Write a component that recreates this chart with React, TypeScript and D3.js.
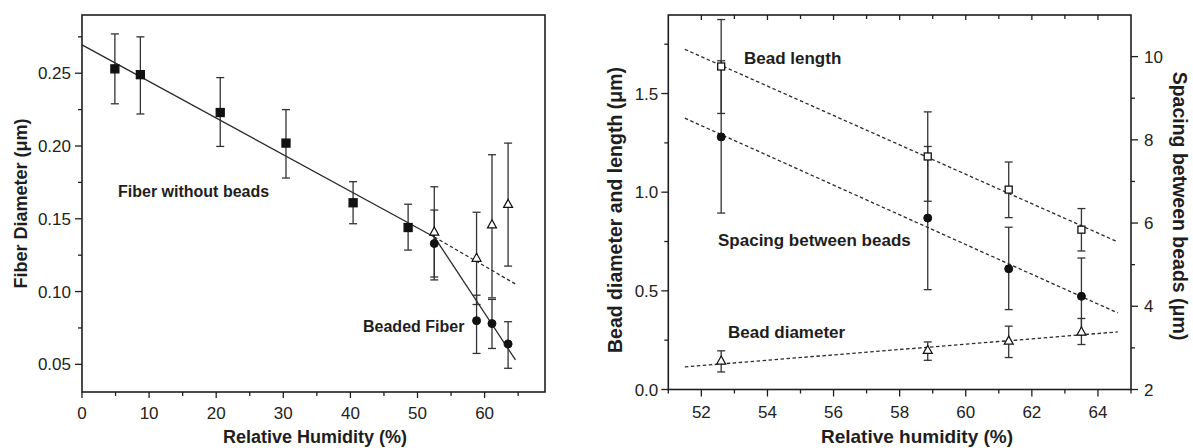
import React from "react";
import * as d3 from "d3";

// ---------- Left panel data ----------
const noBeadsRH = [4.9, 8.7, 20.6, 30.4, 40.4, 48.6];
const noBeadsDiam = [0.253, 0.249, 0.223, 0.202, 0.161, 0.144];
const noBeadsLo = [0.229, 0.222, 0.1997, 0.178, 0.1466, 0.1285];
const noBeadsHi = [0.277, 0.275, 0.247, 0.225, 0.1755, 0.16];

const beadedRH = [52.5, 58.8, 61.1, 63.5];
const beadedDiam = [0.133, 0.08, 0.078, 0.064];
const beadedLo = [0.108, 0.0575, 0.0609, 0.0473];
const beadedHi = [0.156, 0.0975, 0.0946, 0.0793];

const openTriRH = [52.5, 58.8, 61.1, 63.5];
const openTriDiam = [0.141, 0.123, 0.146, 0.16];
const openTriLo = [0.11, 0.0911, 0.0957, 0.1175];
const openTriHi = [0.172, 0.1545, 0.194, 0.202];

const fitNoBeadsX = [0, 52.5];
const fitNoBeadsY = [0.2695, 0.1375];
const fitBeadedX = [52.3, 64.6];
const fitBeadedY = [0.139, 0.053];
const fitDashX = [52.5, 64.6];
const fitDashY = [0.1375, 0.1052];

const leftXTicks = [0, 10, 20, 30, 40, 50, 60];
const leftYTicks = [0.05, 0.1, 0.15, 0.2, 0.25];

// ---------- Right panel data ----------
const rh2 = [52.6, 58.85, 61.3, 63.5];
const beadLength = [1.637, 1.181, 1.013, 0.81];
const beadLengthLo = [1.399, 0.954, 0.871, 0.702];
const beadLengthHi = [1.875, 1.407, 1.153, 0.917];
const spacing = [8.07, 6.12, 4.9, 4.24];
const spacingLo = [6.24, 4.4, 3.92, 3.32];
const spacingHi = [9.9, 7.84, 5.9, 5.16];
const beadDiam = [0.145, 0.199, 0.246, 0.292];
const beadDiamLo = [0.089, 0.148, 0.162, 0.228];
const beadDiamHi = [0.196, 0.241, 0.321, 0.36];

const fitX2 = [51.5, 64.6];
const fitLengthY = [1.724, 0.748];
const fitSpacingY = [8.52, 3.84];
const fitDiamY = [0.1145, 0.292];

const rightXTicks = [52, 54, 56, 58, 60, 62, 64];
const rightYTicks = [0, 0.5, 1.0, 1.5];
const rightY2Ticks = [2, 4, 6, 8, 10];

const INK = "#1e1e1e";
const FONT = "Liberation Sans, Arial, Helvetica, sans-serif";

type Pt = { x: number; y: number };

function ErrBars({ xs, lo, hi, sx, sy, cap }: any) {
  return (
    <g stroke="#333" strokeWidth={1.3}>
      {xs.map((x: number, i: number) => {
        const px = sx(x);
        return (
          <g key={i}>
            <line x1={px} x2={px} y1={sy(lo[i])} y2={sy(hi[i])} />
            <line x1={px - cap} x2={px + cap} y1={sy(lo[i])} y2={sy(lo[i])} />
            <line x1={px - cap} x2={px + cap} y1={sy(hi[i])} y2={sy(hi[i])} />
          </g>
        );
      })}
    </g>
  );
}

function FitLine({ xs, ys, sx, sy, dashed }: any) {
  const pts: Pt[] = xs.map((x: number, i: number) => ({ x, y: ys[i] }));
  const gen = d3
    .line<Pt>()
    .x((d) => sx(d.x))
    .y((d) => sy(d.y));
  return (
    <path
      d={gen(pts) || ""}
      fill="none"
      stroke="#2a2a2a"
      strokeWidth={1.3}
      strokeDasharray={dashed ? "3.5,2.5" : undefined}
    />
  );
}

function Markers({ xs, ys, sx, sy, shape, filled, size }: any) {
  return (
    <g>
      {xs.map((x: number, i: number) => {
        const px = sx(x);
        const py = sy(ys[i]);
        const fill = filled ? "#111" : "#fff";
        if (shape === "square") {
          return (
            <rect
              key={i}
              x={px - size / 2}
              y={py - size / 2}
              width={size}
              height={size}
              fill={fill}
              stroke="#111"
              strokeWidth={1.3}
            />
          );
        }
        if (shape === "circle") {
          return <circle key={i} cx={px} cy={py} r={size / 2} fill={fill} stroke="#111" strokeWidth={1} />;
        }
        const h = size * 0.9;
        const p = `${px},${py - h * 0.6} ${px - size / 2},${py + h * 0.4} ${px + size / 2},${py + h * 0.4}`;
        return <polygon key={i} points={p} fill={fill} stroke="#111" strokeWidth={1.2} />;
      })}
    </g>
  );
}

function LeftPanel() {
  const x0 = 82,
    x1 = 545,
    y0 = 15,
    y1 = 392;
  const sx = d3.scaleLinear().domain([0, 69]).range([x0, x1]);
  const sy = d3.scaleLinear().domain([0.031, 0.29]).range([y1, y0]);
  const xMinor = d3.range(5, 70, 10);
  const yMinor = [0.075, 0.125, 0.175, 0.225, 0.275];
  return (
    <g fontFamily={FONT} fill={INK}>
      <g stroke={INK} strokeWidth={1.3}>
        {leftXTicks.map((t) => (
          <line key={"xt" + t} x1={sx(t)} x2={sx(t)} y1={y1} y2={y1 + 6} />
        ))}
        {xMinor.map((t) => (
          <line key={"xm" + t} x1={sx(t)} x2={sx(t)} y1={y1} y2={y1 + 4} />
        ))}
        {leftYTicks.map((t) => (
          <line key={"yt" + t} x1={x0} x2={x0 - 7} y1={sy(t)} y2={sy(t)} />
        ))}
        {yMinor.map((t) => (
          <line key={"ym" + t} x1={x0} x2={x0 - 4} y1={sy(t)} y2={sy(t)} />
        ))}
      </g>
      <g fontSize={17} textAnchor="middle" fill="#222">
        {leftXTicks.map((t) => (
          <text key={t} x={sx(t)} y={419}>
            {t}
          </text>
        ))}
      </g>
      <g fontSize={17} textAnchor="end" fill="#222">
        {leftYTicks.map((t) => (
          <text key={t} x={x0 - 11} y={sy(t) + 6}>
            {d3.format(".2f")(t)}
          </text>
        ))}
      </g>
      <text x={315} y={443} fontSize={18} fontWeight="bold" textAnchor="middle">
        Relative Humidity (%)
      </text>
      <text
        transform={`translate(27,${(y0 + y1) / 2}) rotate(-90)`}
        fontSize={18}
        fontWeight="bold"
        textAnchor="middle"
      >
        Fiber Diameter (μm)
      </text>

      <FitLine xs={fitNoBeadsX} ys={fitNoBeadsY} sx={sx} sy={sy} />
      <FitLine xs={fitBeadedX} ys={fitBeadedY} sx={sx} sy={sy} />
      <FitLine xs={fitDashX} ys={fitDashY} sx={sx} sy={sy} dashed />

      <ErrBars xs={noBeadsRH} lo={noBeadsLo} hi={noBeadsHi} sx={sx} sy={sy} cap={4} />
      <ErrBars xs={openTriRH} lo={openTriLo} hi={openTriHi} sx={sx} sy={sy} cap={4} />
      <ErrBars xs={beadedRH} lo={beadedLo} hi={beadedHi} sx={sx} sy={sy} cap={4} />

      <Markers xs={noBeadsRH} ys={noBeadsDiam} sx={sx} sy={sy} shape="square" filled size={8} />
      <Markers xs={openTriRH} ys={openTriDiam} sx={sx} sy={sy} shape="triangle" size={9} />
      <Markers xs={beadedRH} ys={beadedDiam} sx={sx} sy={sy} shape="circle" filled size={8} />

      <text x={118} y={197} fontSize={16} fontWeight="bold">
        Fiber without beads
      </text>
      <text x={363} y={332} fontSize={16} fontWeight="bold">
        Beaded Fiber
      </text>

      <rect x={x0} y={y0} width={x1 - x0} height={y1 - y0} fill="none" stroke={INK} strokeWidth={1.6} />
    </g>
  );
}

function RightPanel() {
  const x0 = 668.3,
    x1 = 1131,
    y0 = 15,
    y1 = 389.5;
  const sx = d3.scaleLinear().domain([51, 65]).range([x0, x1]);
  const sy = d3.scaleLinear().domain([0, 1.898]).range([y1, y0]);
  const sy2 = d3.scaleLinear().domain([2, 11]).range([y1, y0]);
  const xMinor = d3.range(51, 66, 2);
  const xAll = d3.range(52, 65, 1);
  const yMinor = [0.25, 0.75, 1.25, 1.75];
  const y2Minor = [3, 5, 7, 9];
  return (
    <g fontFamily={FONT} fill={INK}>
      <g stroke={INK} strokeWidth={1.3}>
        {rightXTicks.map((t) => (
          <line key={"xt" + t} x1={sx(t)} x2={sx(t)} y1={y1} y2={y1 + 7} />
        ))}
        {xMinor.map((t) => (
          <line key={"xm" + t} x1={sx(t)} x2={sx(t)} y1={y1} y2={y1 + 4} />
        ))}
        {xAll.map((t) => (
          <line key={"xtop" + t} x1={sx(t)} x2={sx(t)} y1={y0} y2={y0 + (t % 2 === 0 ? 5 : 4)} />
        ))}
        {rightYTicks.map((t) => (
          <line key={"yt" + t} x1={x0} x2={x0 - 7} y1={sy(t)} y2={sy(t)} />
        ))}
        {yMinor.map((t) => (
          <line key={"ym" + t} x1={x0} x2={x0 - 4} y1={sy(t)} y2={sy(t)} />
        ))}
        {rightY2Ticks.map((t) => (
          <line key={"y2t" + t} x1={x1} x2={x1 + 7} y1={sy2(t)} y2={sy2(t)} />
        ))}
        {y2Minor.map((t) => (
          <line key={"y2m" + t} x1={x1} x2={x1 + 4} y1={sy2(t)} y2={sy2(t)} />
        ))}
      </g>
      <g fontSize={17} textAnchor="middle" fill="#222">
        {rightXTicks.map((t) => (
          <text key={t} x={sx(t)} y={418}>
            {t}
          </text>
        ))}
      </g>
      <g fontSize={17} textAnchor="end" fill="#222">
        {rightYTicks.map((t) => (
          <text key={t} x={x0 - 10} y={sy(t) + 6}>
            {d3.format(".1f")(t)}
          </text>
        ))}
      </g>
      <g fontSize={17} textAnchor="start" fill="#222">
        {rightY2Ticks.map((t) => (
          <text key={t} x={x1 + 13} y={sy2(t) + 6}>
            {t}
          </text>
        ))}
      </g>
      <text x={917} y={443} fontSize={19} fontWeight="bold" textAnchor="middle">
        Relative humidity (%)
      </text>
      <text
        transform={`translate(622,210) rotate(-90)`}
        fontSize={19.5}
        fontWeight="bold"
        textAnchor="middle"
      >
        Bead diameter and length (μm)
      </text>
      <text
        transform={`translate(1173,206) rotate(90)`}
        fontSize={19.5}
        fontWeight="bold"
        textAnchor="middle"
      >
        Spacing between beads (μm)
      </text>

      <FitLine xs={fitX2} ys={fitLengthY} sx={sx} sy={sy} dashed />
      <FitLine xs={fitX2} ys={fitSpacingY} sx={sx} sy={sy2} dashed />
      <FitLine xs={fitX2} ys={fitDiamY} sx={sx} sy={sy} dashed />

      <ErrBars xs={rh2} lo={beadLengthLo} hi={beadLengthHi} sx={sx} sy={sy} cap={4} />
      <ErrBars xs={rh2} lo={spacingLo} hi={spacingHi} sx={sx} sy={sy2} cap={4} />
      <ErrBars xs={rh2} lo={beadDiamLo} hi={beadDiamHi} sx={sx} sy={sy} cap={4} />

      <Markers xs={rh2} ys={beadLength} sx={sx} sy={sy} shape="square" size={7} />
      <Markers xs={rh2} ys={spacing} sx={sx} sy={sy2} shape="circle" filled size={8} />
      <Markers xs={rh2} ys={beadDiam} sx={sx} sy={sy} shape="triangle" size={9} />

      <text x={744} y={63.5} fontSize={17} fontWeight="bold">
        Bead length
      </text>
      <text x={718} y={246} fontSize={17} fontWeight="bold">
        Spacing between beads
      </text>
      <text x={728} y={338} fontSize={17} fontWeight="bold">
        Bead diameter
      </text>

      <rect x={x0} y={y0} width={x1 - x0} height={y1 - y0} fill="none" stroke={INK} strokeWidth={1.6} />
    </g>
  );
}

export default function App() {
  return (
    <svg
      width={1193}
      height={448}
      viewBox="0 0 1193 448"
      style={{ position: "absolute", left: 0, top: 0, background: "#fff" }}
    >
      <rect x={0} y={0} width={1193} height={448} fill="#fff" />
      <LeftPanel />
      <RightPanel />
    </svg>
  );
}
